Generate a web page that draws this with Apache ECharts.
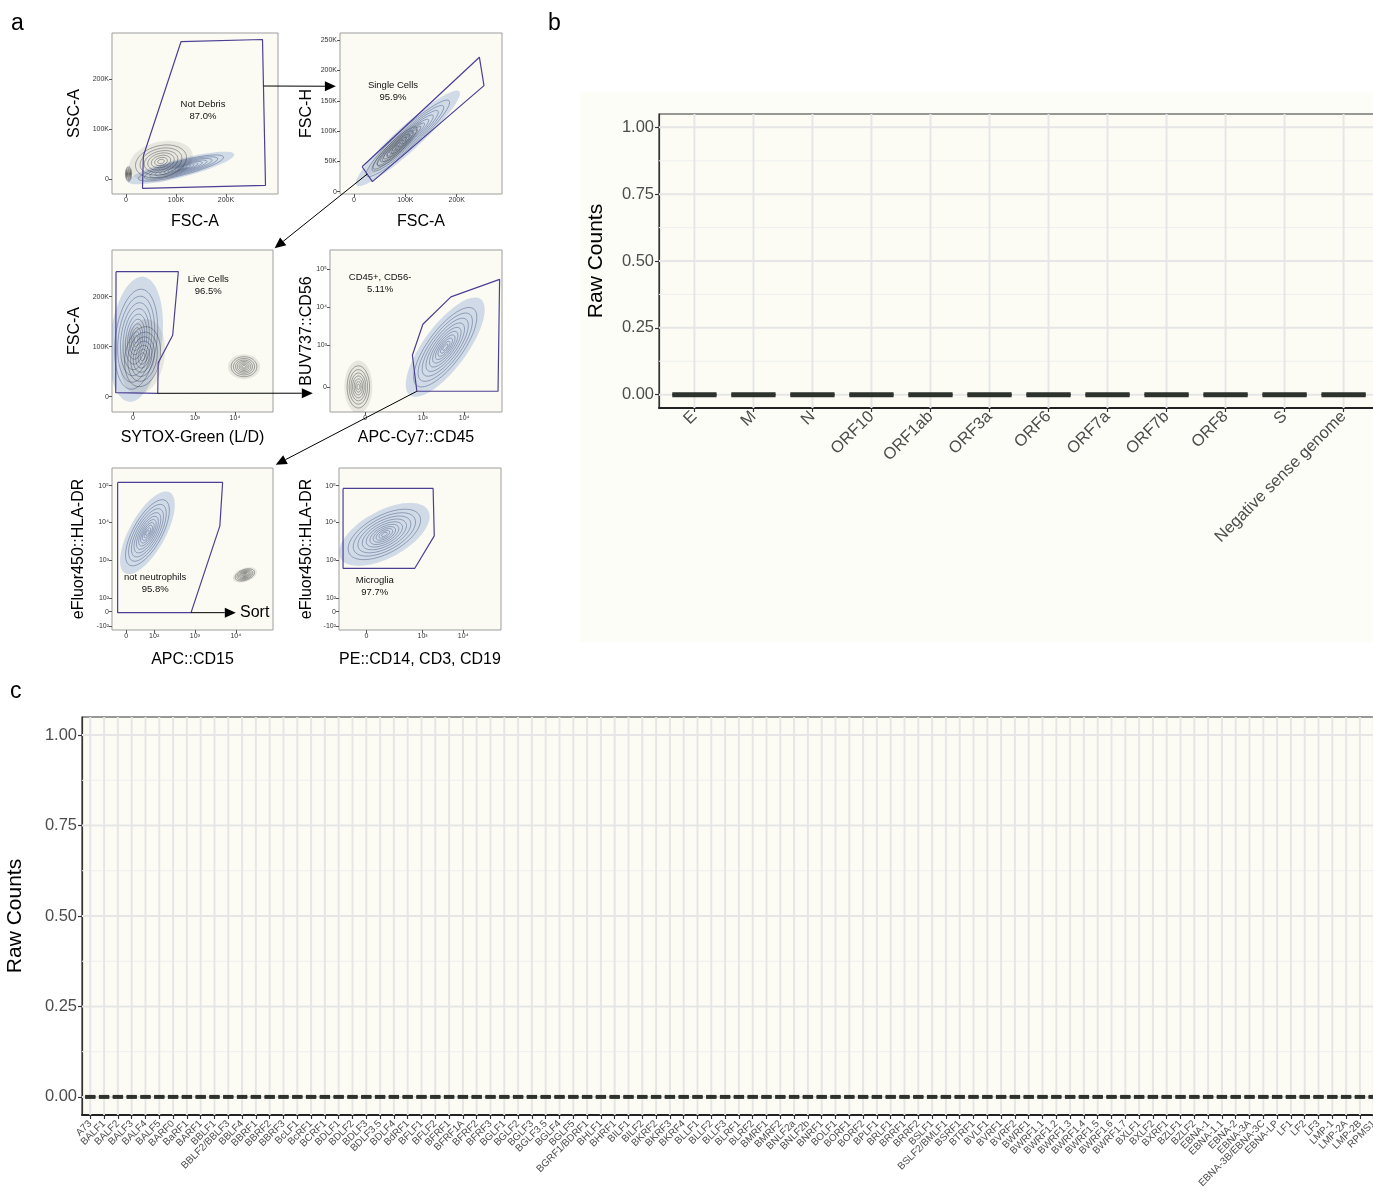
<!DOCTYPE html>
<html>
<head>
<meta charset="utf-8">
<script src="https://cdn.jsdelivr.net/npm/echarts@6.0.0/dist/echarts.min.js"></script>
<style>
  html, body { margin: 0; padding: 0; background: #fff; }
  #main { width: 1373px; height: 1197px; }
</style>
</head>
<body>
<div id="main"></div>
<script>
// ---------- panel b : SARS-CoV-2 genes ----------
const sarsGenes = ['E', 'M', 'N', 'ORF10', 'ORF1ab', 'ORF3a', 'ORF6', 'ORF7a', 'ORF7b', 'ORF8', 'S', 'Negative sense genome'];
// raw counts per gene (all samples read as zero)
const sarsCounts = [
  [0, 0, 0], [0, 0, 0], [0, 0, 0], [0, 0, 0], [0, 0, 0], [0, 0, 0],
  [0, 0, 0], [0, 0, 0], [0, 0, 0], [0, 0, 0], [0, 0, 0], [0, 0, 0]
];

// ---------- panel c : EBV genes ----------
const ebvGenes = [
  'A73', 'BALF1', 'BALF2', 'BALF3', 'BALF4', 'BALF5', 'BARF0', 'BaRF1', 'BARF1', 'BBLF1',
  'BBLF2/BBLF3', 'BBLF4', 'BBRF1', 'BBRF2', 'BBRF3', 'BcLF1', 'BcRF1', 'BCRF1', 'BDLF1', 'BDLF2',
  'BDLF3', 'BDLF3.5', 'BDLF4', 'BdRF1', 'BFLF1', 'BFLF2', 'BFRF1', 'BFRF1A', 'BFRF2', 'BFRF3',
  'BGLF1', 'BGLF2', 'BGLF3', 'BGLF3.5', 'BGLF4', 'BGLF5', 'BGRF1/BDRF1', 'BHLF1', 'BHRF1', 'BILF1',
  'BILF2', 'BKRF2', 'BKRF3', 'BKRF4', 'BLLF1', 'BLLF2', 'BLLF3', 'BLRF1', 'BLRF2', 'BMRF1',
  'BMRF2', 'BNLF2a', 'BNLF2b', 'BNRF1', 'BOLF1', 'BORF1', 'BORF2', 'BPLF1', 'BRLF1', 'BRRF1',
  'BRRF2', 'BSLF1', 'BSLF2/BMLF1', 'BSRF1', 'BTRF1', 'BVLF1', 'BVRF1', 'BVRF2', 'BWRF1', 'BWRF1.1',
  'BWRF1.2', 'BWRF1.3', 'BWRF1.4', 'BWRF1.5', 'BWRF1.6', 'BWRF1.7', 'BXLF1', 'BXLF2', 'BXRF1', 'BZLF1',
  'BZLF2', 'EBNA-1', 'EBNA-1.1', 'EBNA-2', 'EBNA-3A', 'EBNA-3B/EBNA-3C', 'EBNA-LP', 'LF1', 'LF2', 'LF3',
  'LMP-1', 'LMP-2A', 'LMP-2B', 'RPMS1'
];
const ebvCounts = [
  [0,0,0],[0,0,0],[0,0,0],[0,0,0],[0,0,0],[0,0,0],[0,0,0],[0,0,0],[0,0,0],[0,0,0],
  [0,0,0],[0,0,0],[0,0,0],[0,0,0],[0,0,0],[0,0,0],[0,0,0],[0,0,0],[0,0,0],[0,0,0],
  [0,0,0],[0,0,0],[0,0,0],[0,0,0],[0,0,0],[0,0,0],[0,0,0],[0,0,0],[0,0,0],[0,0,0],
  [0,0,0],[0,0,0],[0,0,0],[0,0,0],[0,0,0],[0,0,0],[0,0,0],[0,0,0],[0,0,0],[0,0,0],
  [0,0,0],[0,0,0],[0,0,0],[0,0,0],[0,0,0],[0,0,0],[0,0,0],[0,0,0],[0,0,0],[0,0,0],
  [0,0,0],[0,0,0],[0,0,0],[0,0,0],[0,0,0],[0,0,0],[0,0,0],[0,0,0],[0,0,0],[0,0,0],
  [0,0,0],[0,0,0],[0,0,0],[0,0,0],[0,0,0],[0,0,0],[0,0,0],[0,0,0],[0,0,0],[0,0,0],
  [0,0,0],[0,0,0],[0,0,0],[0,0,0],[0,0,0],[0,0,0],[0,0,0],[0,0,0],[0,0,0],[0,0,0],
  [0,0,0],[0,0,0],[0,0,0],[0,0,0],[0,0,0],[0,0,0],[0,0,0],[0,0,0],[0,0,0],[0,0,0],
  [0,0,0],[0,0,0],[0,0,0],[0,0,0]
];

const countTicks = [0, 0.25, 0.5, 0.75, 1];
const countMinorTicks = [0.125, 0.375, 0.625, 0.875];

// ---------- panel a : flow gating (linear axes in K, log axes in display units 0-100) ----------
const kTicks = [[0, '0'], [100, '100K'], [200, '200K']];
const fscHTicks = [[0, '0'], [50, '50K'], [100, '100K'], [150, '150K'], [200, '200K'], [250, '250K']];
const sytoxTicks = [[13, '0'], [51.6, '10³'], [76.4, '10⁴']];
const cd45Ticks = [[20.4, '0'], [54, '10³'], [78, '10⁴']];
const cd56Ticks = [[15.5, '0'], [41.2, '10³'], [64.9, '10⁴'], [88.2, '10⁵']];
const cd15Ticks = [[8.8, '0'], [26.2, '10²'], [51.5, '10³'], [76.9, '10⁴']];
const peTicks = [[16.9, '0'], [51.6, '10³'], [76.7, '10⁴']];
const hlaTicks = [[2.5, '-10²'], [11.3, '0'], [19.6, '10²'], [43.3, '10³'], [66.4, '10⁴'], [89.1, '10⁵']];

const gateNotDebris = [[34.7, 46], [110, 274.6], [273, 279], [279, -12.7], [33, -18.7]];
const gateSingle = [[16, 41], [244, 222], [253, 175], [36, 16.5]];
const gateLive = [[2.5, 250], [41.2, 250], [37.7, 123], [28.7, 68], [28.4, 6.8], [2.3, 8]];
const gateCD45 = [[50.5, 12.8], [47.9, 35], [54, 54.2], [70.3, 71.1], [98.6, 81.9], [97.7, 12.8]];
const gateNotNeut = [[3.5, 91.1], [68.7, 91.1], [67, 64.3], [49.1, 10.7], [3.5, 10.7]];
const gateMicroglia = [[2.5, 87.4], [58.1, 87.4], [58.8, 58.1], [46.8, 38.1], [2.5, 38.1]];

const gateLabels = [
  [154, 138, 'Not Debris\n87.0%'],
  [76, 165, 'Single Cells\n95.9%'],
  [59.8, 223, 'Live Cells\n96.5%'],
  [29.1, 79.6, 'CD45+, CD56-\n5.11%'],
  [26.8, 28.9, 'not neutrophils\n95.8%'],
  [22.1, 26.8, 'Microglia\n97.7%']
];

// populations: [centre x, centre y, major x, major y, minor x, minor y, kind(0 gray,1 blue)]
const popsP1 = [[110, 22, 85, 22, -4, 14, 1], [70, 35, 50, 14, -10, 30, 0], [5, 10, 6, 0, 0, 14, 0]];
const popsP2 = [[105, 88, 80, 62, 13, -12, 1], [80, 72, 42, 34, 8, -8, 0]];
const popsP3 = [[15, 115, 3, 100, 13, 0, 1], [19, 80, 2, 60, 11, 0, 0], [82, 60, 8, 0, 0, 20, 0]];
const popsP4 = [[16.5, 15.5, 0, 13, 6.5, 0, 0], [67, 40, 16, 24, 9, -5, 1]];
const popsP5 = [[22, 60, 11, 20, 8, -4, 1], [82.5, 34, 6, 1.5, 0, 3.5, 0]];
const popsP6 = [[28, 59, 22, 11, -4, 11, 1]];

// arrows between gates: [fromGrid, fromPoint, toGrid, toPoint]
const gateArrows = [
  [2, [275, 186], 3, [-35, 174]],
  [3, [26, 29], 4, [101, 297]],
  [4, [28.4, 6.8], 5, [-10, 11.6]],
  [5, [50.5, 12.8], 6, [101.7, 102]],
  [6, [49.1, 10.7], 6, [76.9, 10.7]]
];

const FONT = '"Liberation Sans", Arial, Helvetica, sans-serif';

function quantile(sorted, p) {
  const pos = (sorted.length - 1) * p;
  const lo = Math.floor(pos), hi = Math.ceil(pos);
  return sorted[lo] + (sorted[hi] - sorted[lo]) * (pos - lo);
}
function boxStats(vals, i) {
  const s = vals.slice().sort((a, b) => a - b);
  const q1 = quantile(s, 0.25), q3 = quantile(s, 0.75), iqr = q3 - q1;
  const lo = Math.min(...s.filter(v => v >= q1 - 1.5 * iqr));
  const hi = Math.max(...s.filter(v => v <= q3 + 1.5 * iqr));
  return [i, lo, q1, quantile(s, 0.5), q3, hi];
}

function boxRenderer(boxWidth, medianWidth) {
  return function (params, api) {
    const i = api.value(0);
    const x = api.coord([i, 0])[0];
    const left = api.coord([i - boxWidth / 2, 0])[0];
    const right = api.coord([i + boxWidth / 2, 0])[0];
    const yMin = api.coord([i, api.value(1)])[1];
    const yQ1 = api.coord([i, api.value(2)])[1];
    const yMed = api.coord([i, api.value(3)])[1];
    const yQ3 = api.coord([i, api.value(4)])[1];
    const yMax = api.coord([i, api.value(5)])[1];
    const stroke = '#333';
    return {
      type: 'group',
      children: [
        { type: 'line', shape: { x1: x, y1: yMin, x2: x, y2: yQ1 }, style: { stroke, lineWidth: 1 } },
        { type: 'line', shape: { x1: x, y1: yQ3, x2: x, y2: yMax }, style: { stroke, lineWidth: 1 } },
        { type: 'rect', shape: { x: left, y: yQ3, width: right - left, height: yQ1 - yQ3 }, style: { fill: '#fff', stroke, lineWidth: 1 } },
        { type: 'line', shape: { x1: left, y1: yMed, x2: right, y2: yMed }, style: { stroke: '#2d322d', lineWidth: medianWidth, lineCap: 'butt' } }
      ]
    };
  };
}

function gridLineRenderer(params, api) {
  const cs = params.coordSys;
  const v = api.value(0), kind = api.value(1);
  if (kind === 2) {
    const x = api.coord([v, 0])[0];
    return { type: 'line', shape: { x1: x, y1: cs.y, x2: x, y2: cs.y + cs.height }, style: { stroke: '#e6e6e6', lineWidth: 2 } };
  }
  const y = api.coord([0, v])[1];
  return {
    type: 'line', shape: { x1: cs.x, y1: y, x2: cs.x + cs.width, y2: y },
    style: { stroke: kind === 0 ? '#e6e6e6' : '#efefef', lineWidth: kind === 0 ? 2 : 1 }
  };
}

// rotated category label under the panel (used for the dense EBV axis)
function geneLabelRenderer(names, fontSize, margin) {
  return function (params, api) {
    const cs = params.coordSys;
    const i = api.value(0);
    const x = api.coord([i, 0])[0];
    return {
      type: 'text', x: x, y: cs.y + cs.height + margin, rotation: Math.PI / 4,
      style: { text: names[i], align: 'right', verticalAlign: 'middle', fontSize: fontSize, fill: '#4d4d4d', fontFamily: FONT }
    };
  };
}

function popRenderer(params, api) {
  const c = [api.value(0), api.value(1)];
  const u = [api.value(2), api.value(3)];
  const w = [api.value(4), api.value(5)];
  const blue = api.value(6) === 1;
  const ring = s => {
    const pts = [];
    for (let k = 0; k < 36; k++) {
      const t = k / 36 * Math.PI * 2;
      pts.push(api.coord([c[0] + s * (Math.cos(t) * u[0] + Math.sin(t) * w[0]),
                          c[1] + s * (Math.cos(t) * u[1] + Math.sin(t) * w[1])]));
    }
    return pts;
  };
  const children = [];
  children.push({ type: 'polygon', shape: { points: ring(1.25), smooth: 0.4 },
    style: { fill: blue ? 'rgba(100,135,200,0.28)' : 'rgba(60,60,60,0.10)', stroke: null } });
  const scales = blue ? [1, 0.86, 0.73, 0.61, 0.5, 0.4, 0.31, 0.23, 0.15, 0.08] : [1, 0.82, 0.66, 0.52, 0.38, 0.25, 0.13];
  scales.forEach(s => {
    children.push({ type: 'polygon', shape: { points: ring(s), smooth: 0.4 },
      style: { fill: null, stroke: blue ? 'rgba(55,75,120,0.75)' : 'rgba(50,50,50,0.7)', lineWidth: 0.6 } });
  });
  return { type: 'group', children };
}

function tickFormatter(ticks) {
  return v => {
    const t = ticks.find(tk => Math.abs(tk[0] - v) < 1e-6);
    return t ? t[1] : '';
  };
}

// ---------- flow panels (built from the arrays above) ----------
const flowPanels = [
  { rect: [112, 33, 166, 161], x: [-28, 304], y: [-30, 292], xt: kTicks, yt: kTicks, xn: 'FSC-A', yn: 'SSC-A', xg: 20, yg: 29, gate: gateNotDebris, pops: popsP1 },
  { rect: [340, 33, 162, 161], x: [-27, 288], y: [-4, 262], xt: kTicks, yt: fscHTicks, xn: 'FSC-A', yn: 'FSC-H', xg: 20, yg: 25, gate: gateSingle, pops: popsP2 },
  { rect: [112, 250, 161, 162], x: [0, 100], y: [-30.6, 293.4], xt: sytoxTicks, yt: kTicks, xn: 'SYTOX-Green (L/D)', yn: 'FSC-A', xg: 18, yg: 29, gate: gateLive, pops: popsP3 },
  { rect: [330, 250, 172, 162], x: [0, 100], y: [0, 100], xt: cd45Ticks, yt: cd56Ticks, xn: 'APC-Cy7::CD45', yn: 'BUV737::CD56', xg: 18, yg: 15, gate: gateCD45, pops: popsP4 },
  { rect: [112, 468, 161, 162], x: [0, 100], y: [0, 100], xt: cd15Ticks, yt: hlaTicks, xn: 'APC::CD15', yn: 'eFluor450::HLA-DR', xg: 22, yg: 25, gate: gateNotNeut, pops: popsP5 },
  { rect: [339, 468, 162, 162], x: [0, 100], y: [0, 100], xt: peTicks, yt: hlaTicks, xn: 'PE::CD14, CD3, CD19', yn: 'eFluor450::HLA-DR', xg: 22, yg: 24, gate: gateMicroglia, pops: popsP6 }
];

const grids = [
  { left: 659, top: 114, width: 720, height: 294, show: true, backgroundColor: '#fcfcf5', borderColor: '#333', borderWidth: 1.2, outerBoundsMode: 'none' },
  { left: 82, top: 717, width: 1300, height: 398, show: true, backgroundColor: '#fcfcf5', borderColor: '#333', borderWidth: 1.2, outerBoundsMode: 'none' }
];
const xAxes = [], yAxes = [], series = [];

function countAxes(names, idx, labelSize, nameGap, axisLabels) {
  const positions = names.map((n, i) => i);
  xAxes.push({
    type: 'value', gridIndex: idx, min: -0.6, max: names.length - 0.4,
    splitLine: { show: false },
    axisLine: { show: true, onZero: false, lineStyle: { color: '#222', width: 2 } },
    axisTick: { show: true, customValues: positions, length: 4, lineStyle: { color: '#333', width: 1.2 } },
    axisLabel: { show: axisLabels, customValues: positions, formatter: v => names[Math.round(v)], rotate: 45, fontSize: labelSize,
      color: '#4d4d4d', margin: 6, fontFamily: FONT }
  });
  yAxes.push({
    type: 'value', gridIndex: idx, min: -0.05, max: 1.05,
    name: 'Raw Counts', nameLocation: 'middle', nameGap: nameGap, nameMoveOverlap: false,
    nameTextStyle: { fontSize: 21, color: '#000', fontFamily: FONT },
    splitLine: { show: false },
    axisLine: { show: true, onZero: false, lineStyle: { color: '#333', width: 1.2 } },
    axisTick: { show: true, customValues: countTicks, length: 4, lineStyle: { color: '#333', width: 1.2 } },
    axisLabel: { customValues: countTicks, formatter: v => v.toFixed(2), fontSize: 16.5, color: '#4d4d4d', margin: 5, fontFamily: FONT,
      showMinLabel: true, showMaxLabel: true }
  });
}
countAxes(sarsGenes, 0, 16.5, 52, true);
countAxes(ebvGenes, 1, 10, 56, false);

function gridData(names) {
  return countTicks.map(v => [v, 0]).concat(countMinorTicks.map(v => [v, 1])).concat(names.map((n, i) => [i, 2]));
}
[[sarsGenes, sarsCounts, 5], [ebvGenes, ebvCounts, 4]].forEach((p, idx) => {
  series.push({
    type: 'custom', xAxisIndex: idx, yAxisIndex: idx, silent: true, z: 1,
    renderItem: gridLineRenderer, data: gridData(p[0]), encode: { x: 0, y: 1 }
  });
  series.push({
    type: 'custom', xAxisIndex: idx, yAxisIndex: idx, silent: true, z: 3,
    renderItem: boxRenderer(0.75, p[2]), data: p[1].map((vals, i) => boxStats(vals, i)),
    encode: { x: 0, y: [1, 2, 3, 4, 5] }
  });
});
// EBV gene labels drawn one per category so none are dropped by overlap handling
series.push({
  type: 'custom', xAxisIndex: 1, yAxisIndex: 1, silent: true, clip: false, z: 3,
  renderItem: geneLabelRenderer(ebvGenes, 10, 7), data: ebvGenes.map((n, i) => [i, 0]), encode: { x: 0, y: 1 }
});

flowPanels.forEach((fp, k) => {
  const gi = k + 2;
  grids.push({ left: fp.rect[0], top: fp.rect[1], width: fp.rect[2], height: fp.rect[3], show: true,
    backgroundColor: '#fbfbf3', borderColor: '#9d9d9d', borderWidth: 1, outerBoundsMode: 'none' });
  const axisBase = (ticks, range) => ({
    type: 'value', gridIndex: gi, min: range[0], max: range[1],
    nameLocation: 'middle', nameMoveOverlap: false,
    nameTextStyle: { fontSize: 16, color: '#000', fontFamily: FONT },
    splitLine: { show: false },
    axisLine: { show: false, onZero: false },
    axisTick: { show: true, customValues: ticks.map(t => t[0]), length: 3, lineStyle: { color: '#555', width: 1 } },
    axisLabel: { customValues: ticks.map(t => t[0]), formatter: tickFormatter(ticks), fontSize: 7, color: '#333', margin: 3, fontFamily: FONT,
      showMinLabel: true, showMaxLabel: true }
  });
  xAxes.push(Object.assign(axisBase(fp.xt, fp.x), { name: fp.xn, nameGap: fp.xg }));
  yAxes.push(Object.assign(axisBase(fp.yt, fp.y), { name: fp.yn, nameGap: fp.yg }));
  series.push({
    type: 'custom', xAxisIndex: gi, yAxisIndex: gi, silent: true, clip: true, z: 2,
    renderItem: popRenderer, data: fp.pops, encode: { x: 0, y: 1 }
  });
  series.push({
    type: 'line', xAxisIndex: gi, yAxisIndex: gi, silent: true, z: 4,
    symbol: 'none', showSymbol: false,
    lineStyle: { color: '#4b3f93', width: 1.2 },
    data: fp.gate.concat([fp.gate[0]])
  });
  series.push({
    type: 'custom', xAxisIndex: gi, yAxisIndex: gi, silent: true, z: 5,
    data: [gateLabels[k]], encode: { x: 0, y: 1 },
    renderItem: (params, api) => {
      const p = api.coord([api.value(0), api.value(1)]);
      return { type: 'text', x: p[0], y: p[1],
        style: { text: gateLabels[k][2], align: 'center', verticalAlign: 'middle', fontSize: 9.5, lineHeight: 12, fill: '#111', fontFamily: FONT } };
    }
  });
});

const chart = echarts.init(document.getElementById('main'), null, { renderer: 'canvas' });
chart.setOption({
  animation: false,
  backgroundColor: '#ffffff',
  textStyle: { fontFamily: FONT },
  grid: grids,
  xAxis: xAxes,
  yAxis: yAxes,
  series: series
});

// annotation layer: panel letters, panel-b backdrop, gating arrows
const graphics = [
  { id: 'bgB', type: 'rect', z: -100, silent: true, shape: { x: 580, y: 92, width: 793, height: 550 }, style: { fill: '#fdfdf8' } },
  { id: 'la', type: 'text', x: 11, y: 12, style: { text: 'a', fontSize: 23, fill: '#000', fontFamily: FONT } },
  { id: 'lb', type: 'text', x: 548, y: 12, style: { text: 'b', fontSize: 23, fill: '#000', fontFamily: FONT } },
  { id: 'lc', type: 'text', x: 10, y: 680, style: { text: 'c', fontSize: 23, fill: '#000', fontFamily: FONT } }
];
gateArrows.forEach((a, k) => {
  const p0 = chart.convertToPixel({ gridIndex: a[0] }, a[1]);
  const p1 = chart.convertToPixel({ gridIndex: a[2] }, a[3]);
  const dx = p1[0] - p0[0], dy = p1[1] - p0[1];
  const len = Math.sqrt(dx * dx + dy * dy);
  const ux = dx / len, uy = dy / len;
  const bx = p1[0] - ux * 11, by = p1[1] - uy * 11;
  graphics.push({ id: 'arl' + k, type: 'line', silent: true, z: 10,
    shape: { x1: p0[0], y1: p0[1], x2: bx, y2: by }, style: { stroke: '#000', lineWidth: 1 } });
  graphics.push({ id: 'arh' + k, type: 'polygon', silent: true, z: 10,
    shape: { points: [[p1[0], p1[1]], [bx - uy * 5, by + ux * 5], [bx + uy * 5, by - ux * 5]] }, style: { fill: '#000' } });
});
const sortPos = chart.convertToPixel({ gridIndex: 6 }, [79.5, 10.7]);
graphics.push({ id: 'sort', type: 'text', x: sortPos[0], y: sortPos[1], z: 10,
  style: { text: 'Sort', fontSize: 16, fill: '#000', fontFamily: FONT, verticalAlign: 'middle', align: 'left' } });
chart.setOption({ graphic: graphics });
</script>
</body>
</html>
